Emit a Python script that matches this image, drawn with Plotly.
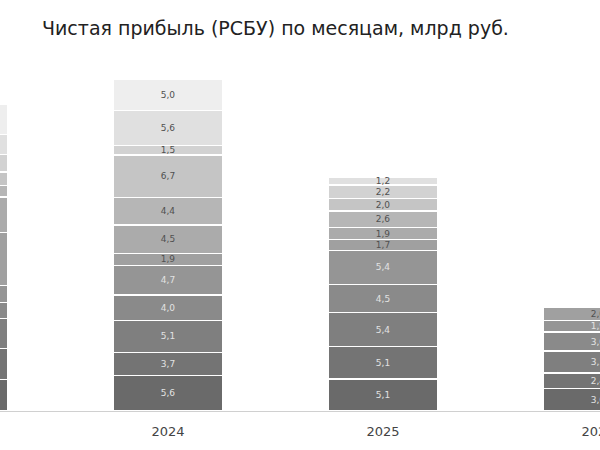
import plotly.graph_objects as go

years = ["2023", "2024", "2025", "2026"]
months = ["Январь", "Февраль", "Март", "Апрель", "Май", "Июнь",
          "Июль", "Август", "Сентябрь", "Октябрь", "Ноябрь", "Декабрь"]

# profit per month (bn RUB), one list per year, January first
p2023 = [5.0, 4.9, 4.8, 2.5, 2.7, 8.4, 5.7, 1.8, 2.1, 2.8, 3.2, 4.8]
p2024 = [5.6, 3.7, 5.1, 4.0, 4.7, 1.9, 4.5, 4.4, 6.7, 1.5, 5.6, 5.0]
p2025 = [5.1, 5.1, 5.4, 4.5, 5.4, 1.7, 1.9, 2.6, 2.0, 2.2, 1.2, None]
p2026 = [3.6, 2.4, 3.5, 3.0, 1.9, 2.0, None, None, None, None, None, None]

colors = ["#6a6a6a", "#747474", "#7f7f7f", "#8a8a8a", "#959595", "#a0a0a0",
          "#ababab", "#b6b6b6", "#c5c5c5", "#d2d2d2", "#e0e0e0", "#eeeeee"]
text_colors = ["#e2e2e2"] * 5 + ["#505050"] * 7

fig = go.Figure()
for i, m in enumerate(months):
    vals = [p2023[i], p2024[i], p2025[i], p2026[i]]
    fig.add_trace(go.Bar(
        x=years, y=vals, name=m,
        marker=dict(color=colors[i], line=dict(color="white", width=1.5)),
        texttemplate="%{y:.1f}", textposition="inside",
        insidetextanchor="middle", textangle=0,
        textfont=dict(size=9, color=text_colors[i], family="DejaVu Sans"),
        hoverinfo="skip",
    ))

fig.update_layout(
    barmode="stack",
    bargap=0.488,
    width=600, height=450,
    margin=dict(l=0, r=0, t=60, b=39, autoexpand=False),
    paper_bgcolor="white", plot_bgcolor="white",
    separators=", ",
    showlegend=False,
    uniformtext=dict(minsize=9, mode="show"),
    title=dict(text="Чистая прибыль (РСБУ) по месяцам, млрд руб.",
               x=42 / 600, xanchor="left", y=1 - 28 / 450, yanchor="middle",
               font=dict(family="DejaVu Sans", size=19, color="#222222")),
    font=dict(family="DejaVu Sans"),
)
fig.update_xaxes(type="category", range=[0.2186, 3.0093], automargin=False,
                 showline=True, linecolor="#d0d0d0", linewidth=1,
                 ticks="", tickfont=dict(size=13, color="#444444"),
                 ticklabelstandoff=8,
                 showgrid=False)
fig.update_yaxes(range=[0, 55.7], visible=False, showgrid=False)

fig.write_html("out.html")
